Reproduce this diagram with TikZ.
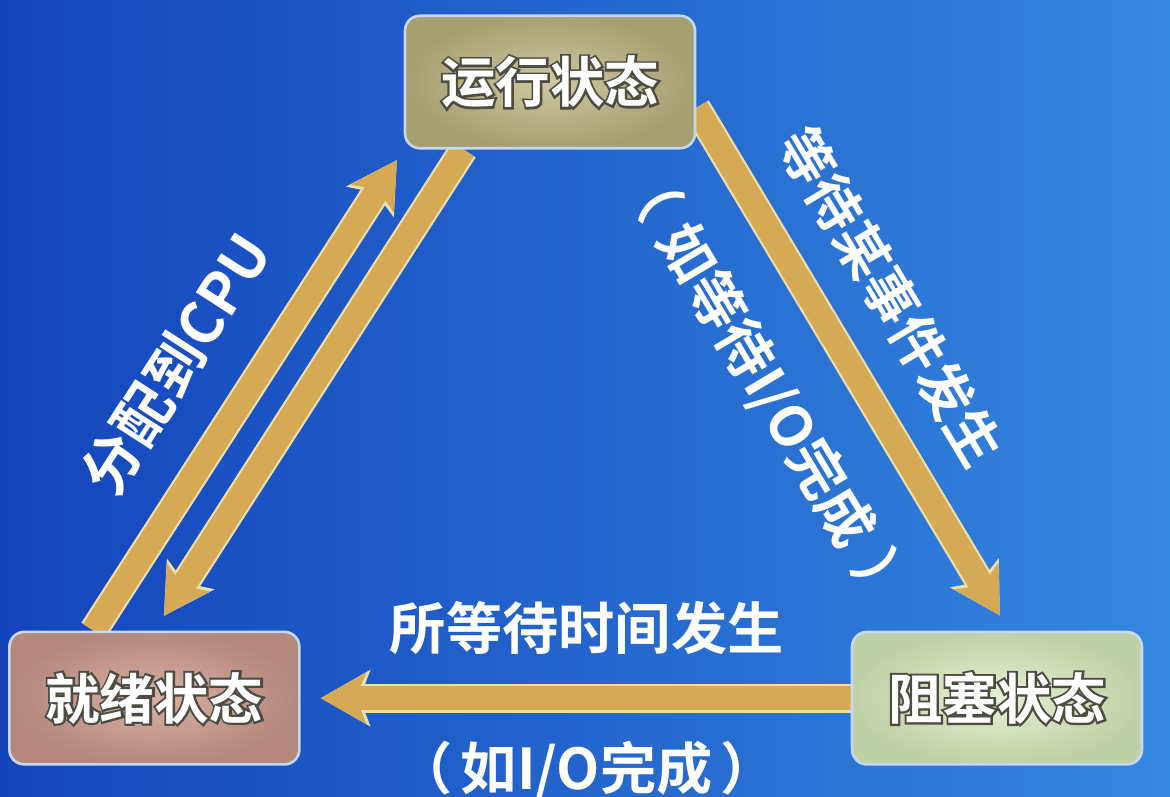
\documentclass[tikz,border=0pt]{standalone}
\usepackage{fontspec}
\newfontfamily\cjk{Noto Sans CJK SC Bold}
\usetikzlibrary{positioning,arrows.meta}

\definecolor{bgdark}{RGB}{20,68,188}
\definecolor{bglight}{RGB}{52,135,222}
\definecolor{arrowgold}{RGB}{214,170,84}
\definecolor{arrowedge}{RGB}{236,222,170}
\definecolor{runin}{RGB}{204,200,160}
\definecolor{runout}{RGB}{165,160,114}
\definecolor{readyin}{RGB}{216,178,164}
\definecolor{readyout}{RGB}{180,136,124}
\definecolor{blockin}{RGB}{230,240,210}
\definecolor{blockout}{RGB}{192,208,166}
\definecolor{boxrim}{RGB}{200,215,240}

% white letters with a dark rim: stroked copy below, filled copy on top
\newcommand{\rimtext}[1]{\rlap{\special{pdf:literal 1 Tr 0.30 0.30 0.26 RG 2.4 w}#1\special{pdf:literal 0 Tr}}#1}

\pgfdeclarelayer{bg}
\pgfdeclarelayer{flows}
\pgfsetlayers{bg,flows,main}

\begin{document}
\begin{tikzpicture}[
    statebox/.style={rectangle, rounded corners=0.3cm, minimum width=5.8cm,
      minimum height=2.65cm, draw=boxrim, line width=1.5pt,
      font=\cjk\fontsize{31}{31}\selectfont, text=white},
    flow/.style={line width=14pt, draw=arrowgold,
      -{Stealth[length=0.9cm, width=1.0cm, inset=0.2cm]},
      preaction={draw=arrowedge, line width=16.5pt,
        -{Stealth[length=0.98cm, width=1.1cm, inset=0.2cm]}}},
    note/.style={font=\cjk\fontsize{32}{32}\selectfont, text=white, inner sep=0pt},
  ]
  \useasboundingbox (0,0) rectangle (23.4,-15.92);
  \begin{pgfonlayer}{bg}
    \shade[left color=bgdark, right color=bglight] (0,0) rectangle (23.4,-15.92);
  \end{pgfonlayer}

  % the three states
  \node[statebox, inner color=runin, outer color=runout] (run) at (11,-1.64) {\rimtext{运行状态}};
  \node[statebox, inner color=readyin, outer color=readyout, below left=9.62cm and 2.06cm of run] (ready) {\rimtext{就绪状态}};
  \node[statebox, inner color=blockin, outer color=blockout, right=11cm of ready] (blocked) {\rimtext{阻塞状态}};

  % transitions
  \begin{pgfonlayer}{flows}
    \draw[flow, shorten >=0.25cm] (ready.132) -- (run.south west)
      node[note, font=\cjk\fontsize{33}{33}\selectfont, pos=0.47, sloped, above=0.72cm] (cpu) {分配到CPU};
    \draw[flow, shorten >=0.35cm] (run.218) -- (ready.north);
    \draw[flow, shorten >=0.35cm] (run.-10) -- (blocked.80)
      node[note, font=\cjk\fontsize{31}{31}\selectfont, pos=0.43, sloped, above=0.64cm] (wait) {等待某事件发生}
      node[note, pos=0.45, sloped, below=0.83cm] (waitio) {（\hspace{0.3em}如等待I/O完成\hspace{0.3em}）};
    \draw[flow, shorten >=0.4cm] (blocked.west) -- (ready.east)
      node[note, pos=0.48, above=0.62cm] (done) {所等待时间发生}
      node[note, pos=0.48, below=0.62cm] (doneio) {（\hspace{0.15em}如I/O完成\hspace{0.15em}）};
  \end{pgfonlayer}
\end{tikzpicture}
\end{document}
